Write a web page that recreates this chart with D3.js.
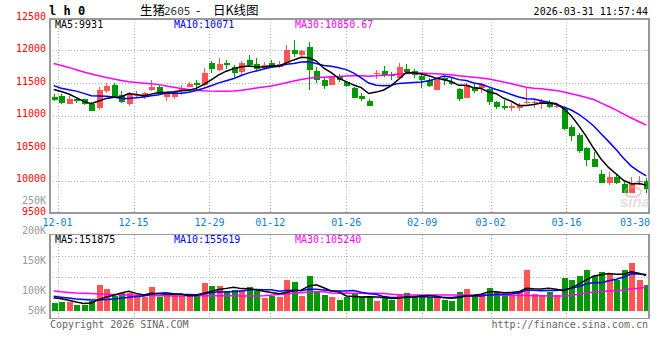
<!DOCTYPE html>
<html><head><meta charset="utf-8">
<script src="https://cdn.jsdelivr.net/npm/d3@7/dist/d3.min.js"></script>
<style>body{margin:0;background:#fff;} svg{display:block;}</style>
</head><body><svg id="c" width="660" height="360"></svg>
<script>
// ---------- DATA ----------
const dates = ["11-28",
 "12-01","12-02","12-03","12-04","12-05","12-08","12-09","12-10","12-11","12-12","12-15","12-16","12-17","12-18","12-19","12-22","12-23","12-24","12-25","12-26","12-29","12-30","12-31",
 "01-05","01-06","01-07","01-08","01-09","01-12","01-13","01-14","01-15","01-16","01-19","01-20","01-21","01-22","01-23","01-26","01-27","01-28","01-29","01-30",
 "02-02","02-03","02-04","02-05","02-06","02-09","02-10","02-11","02-12","02-13","02-24","02-25","02-26","02-27",
 "03-02","03-03","03-04","03-05","03-06","03-09","03-10","03-11","03-12","03-13","03-16","03-17","03-18","03-19","03-20","03-23","03-24","03-25","03-26","03-27","03-30","03-31"];
const open  = [11285,11300,11182,11258,11254,11182,11120,11377,11474,11315,11181,11300,11290,11392,11443,11290,11290,11375,11443,11495,11470,11812,11700,11812,11746,11674,11854,11797,11735,11808,11751,11808,12008,11931,12060,11685,11546,11470,11608,11510,11428,11305,11223,11634,11685,11628,11582,11720,11689,11612,11546,11397,11572,11520,11412,11274,11434,11418,11403,11212,11151,11120,11120,11197,11188,11197,11212,11126,11120,10828,10700,10495,10331,10100,9966,10049,9946,9812,9976,9987];
const high  = [11326,11326,11300,11290,11260,11208,11443,11495,11505,11377,11366,11377,11366,11546,11470,11366,11380,11470,11510,11546,11730,11838,11885,11854,11782,11843,11935,11885,11823,11850,11834,12085,12162,12008,12135,11742,11572,11615,11638,11535,11443,11351,11254,11700,11766,11674,11803,11792,11715,11634,11572,11582,11597,11592,11428,11495,11485,11495,11418,11228,11238,11197,11197,11443,11238,11248,11238,11187,11140,10854,10726,10520,10443,10162,10135,10080,9982,10058,10073,10035];
const low   = [11223,11172,11172,11188,11157,11069,11085,11351,11290,11188,11151,11280,11259,11382,11315,11223,11250,11315,11435,11392,11460,11659,11685,11720,11597,11612,11742,11680,11710,11726,11730,11788,11905,11910,11390,11495,11403,11465,11520,11433,11265,11223,11146,11557,11597,11546,11557,11634,11577,11418,11443,11392,11469,11469,11228,11265,11351,11351,11162,11095,11085,11074,11074,11172,11110,11095,11120,11110,10780,10612,10418,10223,10203,9966,9930,9950,9803,9803,9930,9812];
const close = [11244,11197,11249,11218,11177,11074,11392,11454,11305,11213,11326,11320,11350,11438,11326,11350,11360,11420,11490,11465,11659,11710,11797,11781,11659,11808,11772,11720,11782,11741,11797,12008,11946,11992,11700,11546,11454,11608,11546,11458,11274,11259,11151,11659,11623,11608,11751,11674,11623,11546,11459,11572,11546,11485,11258,11469,11377,11485,11212,11131,11120,11146,11162,11212,11212,11223,11136,11146,10797,10685,10458,10315,10203,9966,10049,9966,9812,9957,9990,9864];
const ma5   = [11400,11370,11330,11275,11217,11183,11222,11263,11280,11288,11338,11324,11303,11329,11352,11357,11365,11379,11389,11417,11479,11549,11624,11682,11721,11751,11763,11748,11748,11765,11762,11810,11855,11897,11889,11838,11728,11660,11571,11522,11468,11429,11338,11360,11393,11460,11558,11663,11656,11640,11611,11575,11549,11522,11464,11466,11427,11415,11360,11335,11265,11219,11154,11154,11170,11191,11189,11186,11103,10997,10844,10680,10492,10325,10198,10100,9999,9950,9955,9931];
const ma10  = [11460,11420,11395,11375,11340,11305,11300,11295,11285,11260,11261,11273,11283,11305,11320,11347,11344,11341,11359,11385,11418,11457,11502,11536,11569,11615,11656,11686,11715,11743,11757,11787,11801,11823,11827,11800,11769,11757,11734,11706,11653,11578,11499,11466,11458,11464,11494,11500,11508,11517,11535,11567,11606,11589,11552,11538,11501,11482,11441,11399,11366,11323,11285,11257,11253,11228,11204,11170,11129,11084,11018,10935,10839,10714,10598,10472,10340,10221,10140,10071];
const ma30  = [11800,11770,11740,11705,11670,11640,11610,11585,11560,11540,11520,11508,11498,11488,11475,11455,11435,11415,11400,11388,11380,11375,11372,11372,11378,11390,11405,11422,11440,11455,11478,11505,11530,11555,11572,11585,11590,11595,11600,11608,11610,11610,11605,11610,11618,11626,11638,11645,11650,11652,11648,11643,11636,11626,11612,11600,11588,11578,11560,11540,11515,11488,11462,11436,11420,11410,11398,11385,11360,11335,11308,11276,11245,11190,11138,11083,11020,10962,10907,10851];
const volume = [77800,80000,80000,75000,75000,82000,108000,101700,90000,94400,94400,91700,87800,105000,88900,91700,91700,90000,90000,90000,111700,106700,106700,98300,100000,100000,105000,98300,86700,90000,87800,116700,113900,90000,123900,98900,91700,87800,83300,88900,94400,87800,88900,82200,86100,83300,92800,94400,87800,91700,87800,86100,83300,82200,97200,101700,90000,93300,103900,97200,93300,91700,98300,133300,93300,91700,97200,91700,120000,116700,123300,133300,123900,130000,126700,116700,133300,145600,116700,108300];
const volMa5  = [87000,85500,83000,80000,77600,78400,84000,88300,91300,95200,97700,94400,91700,94700,93600,93000,93000,93500,90500,90700,94700,97700,101000,102700,104700,102300,102000,100300,98000,96000,93600,95900,99000,99700,106500,108700,103700,98500,97100,90100,89200,88400,88700,88400,87900,85700,86700,87800,88900,90000,90900,89600,87300,86200,87300,90100,90900,92900,97200,97200,95500,95900,96900,102800,102000,101700,102800,101400,98800,103500,109800,117000,123400,125400,127400,126100,126100,130500,127800,124100];
const volMa10 = [89500,88000,86500,85000,84000,83300,83300,84000,85000,86400,88100,89200,90000,93000,94400,95400,93700,92600,92600,92100,93900,95400,97200,96600,97700,98500,99800,100700,100300,100300,98000,99000,99700,98800,101200,101100,99800,98700,98400,98300,99000,96100,93600,92800,89000,87400,87600,88200,88700,88900,88300,88100,87600,87600,88700,90500,90200,90100,91700,92300,92800,93400,94900,100000,99600,98600,99300,99200,100800,102700,105700,109900,112400,112100,115500,118000,121600,127000,126600,125800];
const volMa30 = [98300,97000,96000,95000,94500,94000,93500,93000,92500,92000,91700,91500,91200,91000,90500,90300,90200,90200,90300,90400,90500,90500,90500,90500,90300,90200,90000,90000,90500,91500,92500,93500,94500,95500,96500,97000,97000,95000,94400,94400,94400,94400,94400,94400,94000,93000,92000,91700,91700,91700,91700,91700,91700,91700,91700,91700,91700,91700,91700,91500,91300,91000,91000,90800,90500,90300,90200,90000,90000,91000,93000,95000,96500,97500,98300,99000,100000,101500,103000,104400];
const priceTicks = [12500,12000,11500,11000,10500,10000,9500];
const volTicks = [250000,200000,150000,100000,50000];
const dateTicks = ["12-01","12-15","12-29","01-12","01-26","02-09","03-02","03-16","03-30"];
const legendPrice = [{t:"MA5:9931",c:"#000000"},{t:"MA10:10071",c:"#0000ff"},{t:"MA30:10850.67",c:"#ff00ff"}];
const legendVol = [{t:"MA5:151875",c:"#000000"},{t:"MA10:155619",c:"#0000ff"},{t:"MA30:105240",c:"#ff00ff"}];
const volBase = 65500;

// ---------- LAYOUT ----------
const L = 50, R = 650, PT = 19, PB = 213, VT = 234.5, VB = 318.5;
const RED = "#ff5555", GREEN = "#009a00";
const MONO = "'DejaVu Sans Mono', 'Liberation Mono', monospace";
const CJK = "'Noto Sans CJK SC', sans-serif";
const svg = d3.select("#c");

const xb = d3.scaleBand().domain(dates).range([L, R]);
const xp = d3.scalePoint().domain(dates).range([L, R]);
const y = d3.scaleLinear().domain([9500, 12500]).range([213, 18]);
const yv = d3.scaleLinear().domain([100000, 200000]).range([290, 230]);
const cx = i => xb(dates[i]) + xb.bandwidth() / 2;

const data = dates.map((d, i) => ({d, i, o: open[i], h: high[i], l: low[i], c: close[i], v: volume[i]}));

// gridlines
const grid = svg.append("g").attr("stroke", "#b4b4b4").attr("stroke-dasharray", "1,2").attr("shape-rendering", "crispEdges");
priceTicks.filter(p => p > 9500 && p < 12500).forEach(p => {
  grid.append("line").attr("x1", L).attr("x2", R).attr("y1", Math.round(y(p)) + 0.5).attr("y2", Math.round(y(p)) + 0.5);
});
dateTicks.forEach(t => {
  const x = xp(t);
  if (x > R - 12) return;
  const xx = Math.round(x) + 0.5;
  grid.append("line").attr("x1", xx).attr("x2", xx).attr("y1", PT).attr("y2", PB);
  grid.append("line").attr("x1", xx).attr("x2", xx).attr("y1", VT).attr("y2", VB);
});
[1, 2, 3].forEach(q => {
  const yy = Math.round(VT + (VB - VT) * q / 4) + 0.5;
  grid.append("line").attr("x1", L).attr("x2", R).attr("y1", yy).attr("y2", yy);
});

// candles
const cg = svg.append("g").attr("shape-rendering", "crispEdges");
data.forEach(d => {
  const col = d.c >= d.o ? RED : GREEN;
  const x = Math.round(cx(d.i));
  cg.append("line").attr("x1", x + 0.5).attr("x2", x + 0.5).attr("y1", y(d.h)).attr("y2", y(d.l)).attr("stroke", col).attr("stroke-width", 1);
  const top = y(Math.max(d.o, d.c)), bot = y(Math.min(d.o, d.c));
  cg.append("rect").attr("x", x - 2.5).attr("width", 6).attr("y", top).attr("height", Math.max(1, bot - top)).attr("fill", col);
});

// volume bars
const vg = svg.append("g").attr("shape-rendering", "crispEdges");
data.forEach(d => {
  const col = d.c >= d.o ? RED : GREEN;
  const x = Math.round(cx(d.i));
  vg.append("rect").attr("x", x - 2.5).attr("width", 6).attr("y", yv(d.v)).attr("height", yv(volBase) - yv(d.v)).attr("fill", col);
});

// MA lines
const lineP = arr => d3.line().x((v, i) => cx(i)).y(v => y(v))(arr);
const lineV = arr => d3.line().x((v, i) => cx(i)).y(v => yv(v))(arr);
[[ma30, "#ff00ff"], [ma10, "#0000ff"], [ma5, "#000000"]].forEach(([a, c]) => {
  svg.append("path").attr("d", lineP(a)).attr("fill", "none").attr("stroke", c).attr("stroke-width", 1.5);
});
[[volMa30, "#ff00ff"], [volMa10, "#0000ff"], [volMa5, "#000000"]].forEach(([a, c]) => {
  svg.append("path").attr("d", lineV(a)).attr("fill", "none").attr("stroke", c).attr("stroke-width", 1.5);
});

// panel frames
const fr = svg.append("g").attr("fill", "none").attr("stroke", "#999").attr("stroke-width", 1.5).attr("shape-rendering", "crispEdges");
fr.append("rect").attr("x", L).attr("y", PT).attr("width", R - 1 - L).attr("height", PB - PT);
fr.append("rect").attr("x", L).attr("y", VT).attr("width", R - 1 - L).attr("height", VB - VT);

// sina watermark
const wm = svg.append("g").attr("opacity", 0.55);
wm.append("ellipse").attr("cx", 633).attr("cy", 192).attr("rx", 8).attr("ry", 5).attr("fill", "none").attr("stroke", "#f0a0a0").attr("stroke-width", 2);
wm.append("text").attr("x", 620).attr("y", 207).text("sina").attr("font-family", "Arial, 'Liberation Sans', sans-serif").attr("font-style", "italic").attr("font-weight", "bold").attr("font-size", 15).attr("fill", "#c8c8c8");

// axis labels
const tx = svg.append("g").attr("font-family", MONO).attr("font-size", 10);
priceTicks.forEach(p => {
  tx.append("text").attr("x", 46).attr("y", y(p) + 1.5).attr("text-anchor", "end").attr("fill", "#ff0000").text(p);
});
volTicks.forEach(v => {
  tx.append("text").attr("x", 46).attr("y", Math.min(yv(v), 310) + 3.5).attr("text-anchor", "end").attr("fill", "#999999").text((v / 1000) + "K");
});
dateTicks.forEach(t => {
  const w = t.length * 6.02;
  const x = Math.min(xp(t), R - w / 2);
  tx.append("text").attr("x", x).attr("y", 226).attr("text-anchor", "middle").attr("fill", "#0a7fd6").text(t);
});
[55, 174, 295].forEach((x, i) => {
  tx.append("text").attr("x", x).attr("y", 27.5).attr("fill", legendPrice[i].c).text(legendPrice[i].t);
  tx.append("text").attr("x", x).attr("y", 243).attr("fill", legendVol[i].c).text(legendVol[i].t);
});
tx.append("text").attr("x", 648).attr("y", 15).attr("text-anchor", "end").attr("fill", "#000").text("2026-03-31 11:57:44");
tx.append("text").attr("x", 50).attr("y", 328).attr("fill", "#666").text("Copyright 2026 SINA.COM");
tx.append("text").attr("x", 648).attr("y", 328).attr("text-anchor", "end").attr("fill", "#666").text("http://finance.sina.com.cn");

// header
svg.append("text").attr("x", 49).attr("y", 15).attr("font-family", MONO).attr("font-weight", "bold").attr("font-size", 12).attr("fill", "#000").text("l h 0");
const title = svg.append("text").attr("y", 15).attr("fill", "#000").attr("font-family", CJK).attr("font-size", 12.5);
title.append("tspan").attr("x", 140).text("生猪");
title.append("tspan").attr("x", 164).attr("font-family", MONO).attr("font-size", 11).attr("fill", "#333").text("2605");
title.append("tspan").attr("x", 196).text("-");
title.append("tspan").attr("x", 213).text("日K线图");
</script></body></html>
